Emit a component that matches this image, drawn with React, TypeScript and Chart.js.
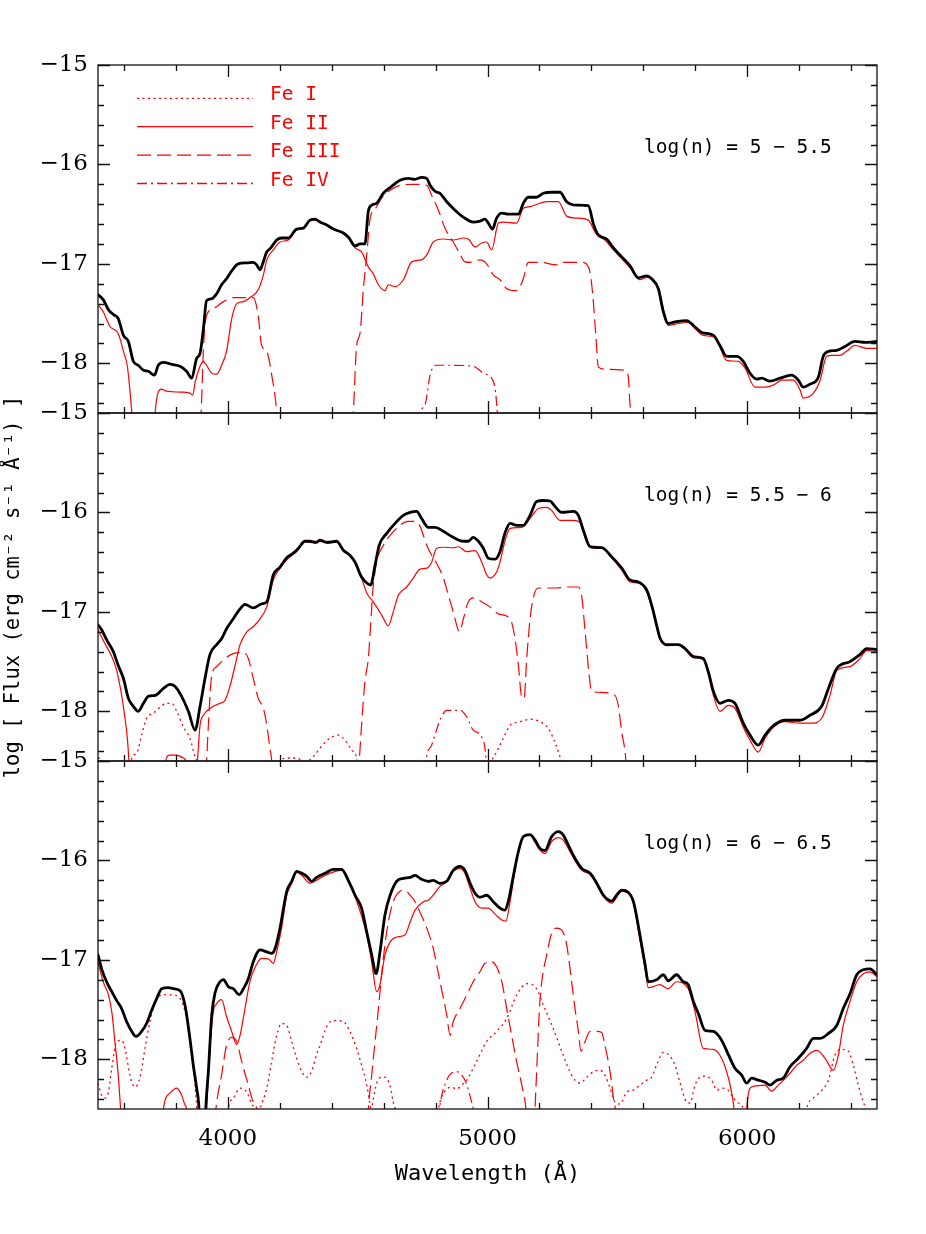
import React, { useEffect, useRef } from 'react';
import { Chart, registerables } from 'chart.js';

Chart.register(...registerables);

const W = 926;
const H = 1234;
const RED = '#ff0000';

// axis ranges and ticks
const X_MIN = 3500;
const X_MAX = 6500;
const Y_MIN = -18.5;
const Y_MAX = -15;
const X_MAJOR = [4000, 5000, 6000];
const X_MINOR = [3600, 3800, 4200, 4400, 4600, 4800, 5200, 5400, 5600, 5800, 6200, 6400];
const Y_MAJOR = [-18, -17, -16, -15];
const Y_MINOR = [-15.2, -15.4, -15.6, -15.8, -16.2, -16.4, -16.6, -16.8, -17.2, -17.4, -17.6, -17.8, -18.2, -18.4];

const LEGEND_LABELS = ['Fe I', 'Fe II', 'Fe III', 'Fe IV'];
const PANEL_LABELS = ['log(n) = 5 \u2212 5.5', 'log(n) = 5.5 \u2212 6', 'log(n) = 6 \u2212 6.5'];
const X_TITLE = 'Wavelength (\u00c5)';
const Y_TITLE = 'log [ Flux (erg cm\u207b\u00b2 s\u207b\u00b9 \u00c5\u207b\u00b9) ]';

// ---------------- Panel 1 : log(n) = 5 - 5.5 ----------------
const P1_TOTAL: number[][] = [[3500,-17.31],[3520,-17.36],[3540,-17.46],[3559,-17.51],[3578,-17.55],[3598,-17.72],[3617,-17.78],[3636,-17.98],[3655,-18.02],[3675,-18.07],[3694,-18.08],[3717,-18.12],[3732,-18.02],[3752,-17.99],[3784,-18.01],[3816,-18.03],[3841,-18.08],[3861,-18.15],[3880,-17.95],[3893,-17.9],[3906,-17.65],[3918,-17.37],[3938,-17.35],[3957,-17.3],[3976,-17.21],[3995,-17.15],[4015,-17.07],[4040,-17.0],[4073,-16.99],[4098,-16.985],[4111,-17.01],[4124,-17.06],[4134,-17.0],[4150,-16.88],[4162,-16.85],[4188,-16.76],[4207,-16.74],[4233,-16.74],[4265,-16.65],[4291,-16.64],[4316,-16.56],[4336,-16.55],[4355,-16.58],[4381,-16.61],[4406,-16.65],[4445,-16.69],[4464,-16.73],[4490,-16.82],[4509,-16.8],[4528,-16.8],[4541,-16.47],[4554,-16.41],[4573,-16.39],[4599,-16.29],[4631,-16.22],[4663,-16.16],[4695,-16.14],[4721,-16.15],[4746,-16.13],[4766,-16.14],[4779,-16.21],[4798,-16.27],[4817,-16.29],[4843,-16.375],[4875,-16.46],[4907,-16.53],[4945,-16.58],[4971,-16.57],[4990,-16.55],[5003,-16.59],[5019,-16.65],[5035,-16.54],[5055,-16.49],[5080,-16.5],[5119,-16.5],[5138,-16.39],[5157,-16.33],[5189,-16.33],[5215,-16.29],[5247,-16.28],[5279,-16.28],[5305,-16.375],[5343,-16.41],[5388,-16.415],[5408,-16.6],[5427,-16.71],[5459,-16.75],[5485,-16.84],[5517,-16.93],[5549,-17.02],[5581,-17.14],[5613,-17.12],[5632,-17.15],[5658,-17.25],[5677,-17.48],[5696,-17.6],[5728,-17.58],[5767,-17.57],[5793,-17.62],[5825,-17.69],[5870,-17.72],[5895,-17.82],[5921,-17.93],[5960,-17.93],[5985,-17.98],[6011,-18.1],[6037,-18.16],[6056,-18.15],[6088,-18.18],[6126,-18.15],[6171,-18.12],[6197,-18.17],[6216,-18.24],[6242,-18.21],[6274,-18.14],[6293,-17.93],[6313,-17.88],[6345,-17.87],[6377,-17.83],[6415,-17.78],[6454,-17.79],[6500,-17.78]];
const P1_FE2: number[][] = [[3500,-17.41],[3520,-17.48],[3546,-17.63],[3578,-17.7],[3598,-17.88],[3613,-18.03],[3621,-18.22],[3630,-18.5],[3634,-18.7],[3716,-18.7],[3720,-18.5],[3732,-18.29],[3745,-18.26],[3764,-18.28],[3816,-18.29],[3854,-18.3],[3865,-18.32],[3874,-18.19],[3893,-18.03],[3906,-17.98],[3918,-18.02],[3938,-18.1],[3957,-18.11],[3976,-18.02],[3995,-17.88],[4015,-17.55],[4034,-17.4],[4060,-17.38],[4085,-17.34],[4117,-17.26],[4137,-17.11],[4150,-16.96],[4175,-16.86],[4201,-16.78],[4233,-16.76],[4265,-16.66],[4291,-16.64],[4316,-16.57],[4336,-16.56],[4355,-16.58],[4381,-16.61],[4445,-16.7],[4470,-16.76],[4490,-16.84],[4515,-16.88],[4541,-17.03],[4560,-17.1],[4580,-17.21],[4605,-17.27],[4618,-17.21],[4644,-17.23],[4676,-17.16],[4708,-16.98],[4746,-16.96],[4766,-16.91],[4791,-16.78],[4830,-16.75],[4868,-16.76],[4907,-16.74],[4926,-16.75],[4952,-16.83],[4978,-16.79],[4997,-16.78],[5016,-16.86],[5042,-16.59],[5061,-16.58],[5112,-16.59],[5138,-16.44],[5164,-16.425],[5202,-16.39],[5234,-16.375],[5273,-16.375],[5305,-16.52],[5343,-16.54],[5388,-16.56],[5414,-16.68],[5427,-16.72],[5452,-16.76],[5485,-16.86],[5549,-17.04],[5587,-17.16],[5619,-17.13],[5658,-17.25],[5684,-17.53],[5696,-17.62],[5735,-17.6],[5773,-17.59],[5799,-17.65],[5831,-17.72],[5876,-17.74],[5921,-17.97],[5966,-17.98],[5992,-18.05],[6030,-18.24],[6069,-18.24],[6101,-18.22],[6133,-18.17],[6178,-18.17],[6204,-18.27],[6216,-18.35],[6255,-18.3],[6281,-18.17],[6306,-17.93],[6325,-17.92],[6357,-17.92],[6383,-17.88],[6415,-17.82],[6460,-17.85],[6500,-17.85]];
const P1_FE3: number[][] = [[3880,-18.8],[3897,-18.5],[3906,-17.85],[3918,-17.52],[3944,-17.45],[3983,-17.38],[4021,-17.34],[4098,-17.34],[4117,-17.52],[4130,-17.82],[4150,-17.88],[4169,-18.12],[4188,-18.49],[4195,-18.8],[4470,-18.8],[4483,-18.5],[4496,-17.82],[4509,-17.7],[4522,-17.25],[4535,-16.91],[4548,-16.54],[4567,-16.45],[4592,-16.34],[4625,-16.26],[4663,-16.21],[4714,-16.2],[4766,-16.21],[4785,-16.31],[4811,-16.46],[4836,-16.64],[4868,-16.78],[4894,-16.9],[4913,-16.98],[4933,-16.985],[4971,-16.96],[4997,-17.0],[5022,-17.11],[5048,-17.16],[5074,-17.25],[5112,-17.27],[5138,-17.15],[5157,-16.985],[5202,-16.985],[5266,-17.01],[5286,-16.985],[5363,-16.985],[5390,-17.04],[5405,-17.3],[5418,-17.75],[5427,-18.04],[5459,-18.06],[5530,-18.07],[5542,-18.13],[5549,-18.42],[5553,-18.5],[5560,-18.8]];
const P1_FE4: number[][] = [[4735,-18.8],[4743,-18.5],[4759,-18.42],[4779,-18.12],[4798,-18.02],[4856,-18.02],[4945,-18.03],[4984,-18.1],[5016,-18.15],[5029,-18.25],[5038,-18.5],[5045,-18.8]];
const P1_FE1: number[][] = [];

// ---------------- Panel 2 : log(n) = 5.5 - 6 ----------------
const P2_TOTAL: number[][] = [[3500,-17.13],[3514,-17.18],[3533,-17.28],[3559,-17.4],[3578,-17.54],[3598,-17.67],[3617,-17.87],[3636,-17.95],[3655,-18.0],[3675,-17.92],[3694,-17.85],[3720,-17.84],[3752,-17.77],[3777,-17.73],[3797,-17.75],[3822,-17.85],[3848,-18.0],[3874,-18.19],[3893,-17.95],[3912,-17.67],[3931,-17.43],[3957,-17.33],[3976,-17.27],[3995,-17.17],[4021,-17.07],[4047,-16.97],[4066,-16.925],[4098,-16.96],[4130,-16.92],[4150,-16.9],[4175,-16.63],[4201,-16.55],[4227,-16.455],[4252,-16.41],[4272,-16.36],[4297,-16.29],[4316,-16.29],[4340,-16.3],[4355,-16.28],[4381,-16.3],[4419,-16.29],[4445,-16.38],[4470,-16.43],[4490,-16.5],[4515,-16.65],[4535,-16.71],[4550,-16.73],[4567,-16.53],[4583,-16.33],[4612,-16.21],[4644,-16.11],[4676,-16.03],[4702,-16.0],[4727,-15.99],[4746,-16.06],[4772,-16.15],[4798,-16.15],[4830,-16.19],[4868,-16.25],[4907,-16.29],[4926,-16.29],[4945,-16.25],[4965,-16.29],[4984,-16.36],[5003,-16.46],[5029,-16.47],[5048,-16.395],[5067,-16.21],[5087,-16.11],[5112,-16.13],[5138,-16.13],[5164,-16.03],[5189,-15.89],[5215,-15.88],[5241,-15.885],[5260,-15.94],[5286,-16.0],[5331,-15.99],[5350,-16.03],[5369,-16.18],[5395,-16.345],[5440,-16.355],[5478,-16.445],[5517,-16.56],[5549,-16.68],[5581,-16.7],[5613,-16.78],[5632,-16.93],[5651,-17.13],[5664,-17.26],[5690,-17.33],[5735,-17.33],[5761,-17.37],[5793,-17.45],[5831,-17.47],[5850,-17.6],[5870,-17.8],[5895,-17.92],[5927,-17.89],[5953,-17.92],[5985,-18.12],[6011,-18.24],[6043,-18.34],[6069,-18.24],[6101,-18.145],[6146,-18.09],[6203,-18.09],[6242,-18.04],[6287,-17.95],[6313,-17.77],[6345,-17.57],[6396,-17.5],[6434,-17.43],[6460,-17.37],[6500,-17.38]];
const P2_FE2: number[][] = [[3500,-17.18],[3527,-17.32],[3553,-17.45],[3572,-17.59],[3591,-17.84],[3604,-18.07],[3613,-18.27],[3619,-18.5],[3622,-18.7],[3755,-18.7],[3760,-18.5],[3777,-18.44],[3803,-18.44],[3829,-18.47],[3838,-18.5],[3842,-18.7],[3878,-18.7],[3883,-18.5],[3893,-18.14],[3906,-18.04],[3918,-18.0],[3944,-17.95],[3970,-17.92],[3989,-17.89],[4008,-17.75],[4028,-17.54],[4047,-17.33],[4073,-17.2],[4098,-17.15],[4124,-17.07],[4150,-16.95],[4175,-16.68],[4201,-16.56],[4233,-16.46],[4265,-16.395],[4297,-16.29],[4316,-16.3],[4340,-16.31],[4355,-16.29],[4381,-16.31],[4419,-16.3],[4445,-16.39],[4470,-16.435],[4490,-16.51],[4515,-16.66],[4535,-16.81],[4560,-16.9],[4592,-17.03],[4618,-17.14],[4637,-17.0],[4657,-16.83],[4689,-16.75],[4714,-16.66],[4740,-16.57],[4766,-16.56],[4785,-16.5],[4804,-16.36],[4830,-16.35],[4868,-16.355],[4888,-16.345],[4920,-16.395],[4952,-16.385],[4978,-16.5],[4997,-16.63],[5010,-16.66],[5035,-16.6],[5048,-16.5],[5067,-16.29],[5087,-16.16],[5132,-16.15],[5164,-16.06],[5196,-15.96],[5228,-15.95],[5247,-15.98],[5279,-16.08],[5331,-16.08],[5356,-16.1],[5375,-16.21],[5401,-16.36],[5440,-16.36],[5478,-16.455],[5517,-16.58],[5549,-16.7],[5581,-16.71],[5613,-16.8],[5632,-16.95],[5651,-17.15],[5664,-17.27],[5690,-17.34],[5735,-17.33],[5761,-17.38],[5793,-17.46],[5831,-17.48],[5850,-17.62],[5870,-17.84],[5895,-18.0],[5927,-17.94],[5953,-17.97],[5985,-18.16],[6011,-18.29],[6043,-18.41],[6069,-18.27],[6101,-18.16],[6146,-18.105],[6203,-18.12],[6248,-18.12],[6287,-18.07],[6319,-17.84],[6345,-17.59],[6396,-17.55],[6434,-17.47],[6460,-17.39],[6500,-17.4]];
const P2_FE3: number[][] = [[3905,-18.8],[3918,-18.5],[3925,-18.14],[3938,-17.64],[3957,-17.55],[3989,-17.47],[4021,-17.42],[4060,-17.41],[4079,-17.47],[4098,-17.67],[4117,-17.87],[4137,-17.97],[4150,-18.14],[4162,-18.37],[4169,-18.5],[4175,-18.8],[4495,-18.8],[4506,-18.5],[4515,-18.14],[4528,-17.7],[4541,-17.47],[4550,-17.13],[4558,-16.8],[4573,-16.5],[4599,-16.33],[4625,-16.23],[4663,-16.13],[4695,-16.09],[4721,-16.09],[4740,-16.14],[4766,-16.33],[4785,-16.43],[4804,-16.51],[4830,-16.66],[4849,-16.83],[4868,-17.0],[4892,-17.2],[4907,-17.07],[4926,-16.9],[4945,-16.86],[4978,-16.9],[5010,-16.95],[5042,-17.02],[5087,-17.07],[5106,-17.27],[5119,-17.54],[5132,-17.86],[5141,-17.87],[5151,-17.47],[5164,-17.07],[5177,-16.85],[5196,-16.76],[5266,-16.76],[5305,-16.75],[5350,-16.75],[5363,-16.85],[5376,-17.2],[5390,-17.6],[5401,-17.8],[5440,-17.81],[5491,-17.84],[5504,-17.95],[5517,-18.21],[5530,-18.41],[5533,-18.5],[5540,-18.8]];
const P2_FE4: number[][] = [[4755,-18.8],[4763,-18.5],[4785,-18.34],[4817,-18.09],[4843,-17.99],[4894,-17.99],[4920,-18.055],[4945,-18.19],[4978,-18.26],[4994,-18.47],[5000,-18.8]];
const P2_FE1: number[][] = [[3500,-18.47],[3515,-18.49],[3525,-18.7],[3620,-18.7],[3630,-18.47],[3649,-18.42],[3668,-18.24],[3687,-18.07],[3713,-18.02],[3739,-17.96],[3764,-17.92],[3784,-17.92],[3803,-18.0],[3829,-18.16],[3854,-18.27],[3874,-18.46],[3880,-18.5],[3888,-18.8],[4190,-18.8],[4205,-18.49],[4230,-18.47],[4265,-18.47],[4291,-18.5],[4315,-18.49],[4335,-18.44],[4355,-18.37],[4393,-18.27],[4426,-18.24],[4451,-18.29],[4477,-18.39],[4496,-18.47],[4502,-18.6],[5005,-18.6],[5016,-18.5],[5035,-18.41],[5061,-18.27],[5087,-18.14],[5125,-18.105],[5164,-18.08],[5202,-18.105],[5234,-18.17],[5253,-18.27],[5273,-18.41],[5282,-18.5],[5290,-18.7]];

// ---------------- Panel 3 : log(n) = 6 - 6.5 ----------------
const P3_TOTAL: number[][] = [[3500,-16.95],[3514,-17.09],[3533,-17.22],[3553,-17.32],[3572,-17.41],[3591,-17.49],[3610,-17.62],[3630,-17.72],[3646,-17.77],[3668,-17.72],[3687,-17.64],[3707,-17.505],[3726,-17.39],[3745,-17.29],[3771,-17.28],[3790,-17.29],[3816,-17.31],[3835,-17.455],[3854,-17.79],[3867,-18.06],[3880,-18.29],[3889,-18.5],[3893,-18.8],[3911,-18.8],[3915,-18.5],[3925,-18.125],[3938,-17.555],[3951,-17.33],[3970,-17.22],[3983,-17.2],[4002,-17.27],[4021,-17.29],[4044,-17.35],[4060,-17.29],[4079,-17.19],[4098,-17.02],[4124,-16.9],[4150,-16.92],[4169,-16.935],[4182,-16.885],[4201,-16.68],[4227,-16.31],[4246,-16.21],[4265,-16.11],[4285,-16.13],[4304,-16.16],[4323,-16.21],[4342,-16.17],[4374,-16.13],[4406,-16.09],[4438,-16.09],[4464,-16.2],[4490,-16.35],[4515,-16.48],[4535,-16.72],[4554,-16.95],[4571,-17.14],[4586,-16.92],[4605,-16.55],[4625,-16.35],[4650,-16.21],[4676,-16.18],[4702,-16.17],[4721,-16.15],[4746,-16.19],[4772,-16.21],[4791,-16.2],[4817,-16.23],[4843,-16.21],[4868,-16.1],[4894,-16.06],[4913,-16.1],[4933,-16.23],[4952,-16.33],[4971,-16.37],[4997,-16.35],[5022,-16.415],[5048,-16.48],[5067,-16.5],[5080,-16.415],[5100,-16.15],[5119,-15.91],[5138,-15.76],[5164,-15.74],[5183,-15.795],[5202,-15.88],[5221,-15.9],[5247,-15.76],[5273,-15.71],[5292,-15.745],[5311,-15.845],[5337,-15.98],[5363,-16.08],[5395,-16.13],[5414,-16.2],[5431,-16.28],[5446,-16.35],[5478,-16.41],[5497,-16.35],[5517,-16.3],[5542,-16.32],[5562,-16.415],[5587,-16.75],[5607,-17.05],[5619,-17.22],[5651,-17.2],[5677,-17.15],[5696,-17.21],[5728,-17.15],[5754,-17.22],[5773,-17.25],[5793,-17.42],[5812,-17.54],[5838,-17.71],[5870,-17.72],[5902,-17.81],[5927,-17.95],[5953,-18.09],[5979,-18.16],[5998,-18.24],[6017,-18.19],[6043,-18.21],[6069,-18.23],[6088,-18.26],[6114,-18.21],[6139,-18.19],[6165,-18.075],[6197,-17.99],[6229,-17.89],[6255,-17.79],[6281,-17.79],[6313,-17.74],[6345,-17.66],[6370,-17.49],[6396,-17.34],[6422,-17.15],[6447,-17.1],[6473,-17.09],[6500,-17.15]];
const P3_FE2: number[][] = [[3500,-17.02],[3520,-17.22],[3540,-17.35],[3553,-17.52],[3565,-17.82],[3578,-18.16],[3587,-18.5],[3592,-18.7],[3748,-18.7],[3752,-18.5],[3777,-18.34],[3803,-18.29],[3822,-18.36],[3835,-18.46],[3841,-18.5],[3846,-18.7],[3914,-18.7],[3918,-18.5],[3931,-17.89],[3944,-17.52],[3957,-17.44],[3976,-17.4],[3995,-17.57],[4015,-17.72],[4034,-17.85],[4047,-17.76],[4066,-17.49],[4085,-17.22],[4105,-17.075],[4130,-16.985],[4156,-16.99],[4175,-17.035],[4188,-16.92],[4207,-16.68],[4227,-16.35],[4246,-16.23],[4265,-16.12],[4285,-16.15],[4316,-16.23],[4342,-16.2],[4374,-16.15],[4438,-16.1],[4464,-16.22],[4490,-16.365],[4535,-16.75],[4554,-17.02],[4573,-17.32],[4586,-17.25],[4605,-16.95],[4625,-16.82],[4650,-16.77],[4682,-16.75],[4702,-16.62],[4721,-16.5],[4753,-16.415],[4772,-16.4],[4791,-16.35],[4817,-16.26],[4843,-16.21],[4868,-16.11],[4894,-16.08],[4913,-16.13],[4933,-16.28],[4952,-16.415],[4978,-16.48],[5003,-16.48],[5029,-16.54],[5055,-16.6],[5071,-16.61],[5087,-16.415],[5106,-16.1],[5125,-15.845],[5144,-15.745],[5164,-15.745],[5183,-15.82],[5202,-15.895],[5221,-15.93],[5247,-15.81],[5273,-15.77],[5292,-15.795],[5311,-15.88],[5337,-16.0],[5363,-16.1],[5395,-16.14],[5414,-16.21],[5431,-16.29],[5446,-16.36],[5478,-16.43],[5517,-16.31],[5542,-16.33],[5562,-16.43],[5587,-16.8],[5607,-17.09],[5619,-17.28],[5664,-17.25],[5696,-17.29],[5728,-17.22],[5773,-17.29],[5799,-17.52],[5831,-17.89],[5870,-17.9],[5895,-17.96],[5921,-18.125],[5940,-18.33],[5949,-18.49],[5955,-18.7],[5993,-18.7],[5998,-18.5],[6011,-18.29],[6030,-18.27],[6069,-18.26],[6094,-18.32],[6120,-18.26],[6159,-18.16],[6191,-18.06],[6216,-18.01],[6242,-17.94],[6268,-17.91],[6300,-17.99],[6332,-18.11],[6351,-17.96],[6370,-17.66],[6396,-17.42],[6422,-17.22],[6447,-17.14],[6473,-17.12],[6500,-17.17]];
const P3_FE3: number[][] = [[3945,-18.8],[3954,-18.5],[3976,-18.16],[3995,-17.86],[4015,-17.78],[4034,-17.82],[4053,-18.02],[4079,-18.26],[4098,-18.43],[4111,-18.5],[4118,-18.8],[4535,-18.8],[4541,-18.5],[4554,-18.16],[4567,-17.82],[4580,-17.49],[4592,-17.15],[4605,-16.85],[4618,-16.62],[4637,-16.415],[4663,-16.31],[4682,-16.3],[4702,-16.35],[4721,-16.415],[4740,-16.52],[4766,-16.68],[4791,-16.885],[4817,-17.22],[4843,-17.555],[4856,-17.76],[4868,-17.62],[4894,-17.49],[4920,-17.355],[4945,-17.22],[4971,-17.12],[4990,-17.035],[5016,-17.02],[5035,-17.07],[5055,-17.22],[5074,-17.49],[5093,-17.76],[5112,-18.02],[5132,-18.26],[5148,-18.5],[5155,-18.8],[5178,-18.8],[5183,-18.5],[5192,-17.96],[5200,-17.49],[5209,-17.22],[5228,-16.95],[5247,-16.73],[5266,-16.68],[5286,-16.7],[5305,-16.85],[5324,-17.22],[5337,-17.49],[5350,-17.72],[5360,-17.92],[5376,-17.82],[5395,-17.72],[5420,-17.72],[5440,-17.73],[5452,-17.86],[5472,-18.125],[5485,-18.39],[5492,-18.5],[5498,-18.8]];
const P3_FE4: number[][] = [[4805,-18.8],[4815,-18.5],[4843,-18.21],[4881,-18.125],[4913,-18.21],[4939,-18.43],[4945,-18.5],[4952,-18.8]];
const P3_FE1: number[][] = [[3500,-18.24],[3514,-18.36],[3527,-18.39],[3540,-18.33],[3553,-18.09],[3572,-17.82],[3591,-17.81],[3604,-17.89],[3623,-18.16],[3642,-18.28],[3662,-18.18],[3681,-17.89],[3700,-17.62],[3726,-17.4],[3752,-17.35],[3790,-17.355],[3816,-17.39],[3835,-17.52],[3854,-17.82],[3870,-18.16],[3880,-18.5],[3885,-18.8],[3995,-18.8],[4002,-18.5],[4021,-18.39],[4047,-18.29],[4073,-18.33],[4092,-18.45],[4105,-18.5],[4115,-18.6],[4124,-18.5],[4150,-18.29],[4169,-18.02],[4188,-17.76],[4207,-17.64],[4227,-17.66],[4246,-17.82],[4265,-17.99],[4285,-18.125],[4304,-18.18],[4323,-18.12],[4342,-17.95],[4355,-17.86],[4381,-17.67],[4406,-17.61],[4445,-17.62],[4470,-17.72],[4496,-17.89],[4515,-18.06],[4535,-18.26],[4548,-18.46],[4552,-18.52],[4560,-18.4],[4573,-18.24],[4592,-18.18],[4605,-18.18],[4625,-18.27],[4637,-18.43],[4644,-18.5],[4650,-18.7],[4800,-18.7],[4811,-18.5],[4823,-18.38],[4843,-18.3],[4862,-18.28],[4881,-18.3],[4900,-18.26],[4920,-18.21],[4958,-18.02],[4997,-17.82],[5035,-17.72],[5074,-17.59],[5112,-17.355],[5151,-17.24],[5189,-17.29],[5215,-17.455],[5253,-17.69],[5292,-17.96],[5324,-18.16],[5356,-18.24],[5382,-18.18],[5408,-18.125],[5433,-18.11],[5452,-18.16],[5472,-18.29],[5491,-18.43],[5510,-18.45],[5536,-18.33],[5562,-18.31],[5587,-18.26],[5613,-18.21],[5632,-18.18],[5651,-18.06],[5677,-17.93],[5703,-17.97],[5722,-18.06],[5741,-18.23],[5767,-18.43],[5780,-18.44],[5799,-18.26],[5818,-18.18],[5838,-18.17],[5863,-18.21],[5883,-18.31],[5902,-18.29],[5927,-18.31],[5947,-18.39],[5966,-18.44],[5985,-18.5],[5992,-18.7],[6220,-18.7],[6229,-18.5],[6255,-18.39],[6281,-18.33],[6313,-18.21],[6338,-17.96],[6364,-17.9],[6390,-17.92],[6409,-18.06],[6428,-18.26],[6447,-18.43],[6455,-18.5],[6462,-18.7]];

const PANELS = [
  { total: P1_TOTAL, fe1: P1_FE1, fe2: P1_FE2, fe3: P1_FE3, fe4: P1_FE4 },
  { total: P2_TOTAL, fe1: P2_FE1, fe2: P2_FE2, fe3: P2_FE3, fe4: P2_FE4 },
  { total: P3_TOTAL, fe1: P3_FE1, fe2: P3_FE2, fe3: P3_FE3, fe4: P3_FE4 },
];

// layout of the three stacked panels (pixels on the page)
const LAYOUT = [
  { top: 65, bottom: 1234 - 413 },
  { top: 413, bottom: 1234 - 761 },
  { top: 761, bottom: 0 },
];

const DASH_FE1 = [2, 3.5];
const DASH_FE3 = [14, 6];
const DASH_FE4 = [10, 4, 2, 4];
const LEGEND_DASHES = [DASH_FE1, [], DASH_FE3, DASH_FE4];

const TEXT_FONT = '"DejaVu Sans Mono", "Liberation Mono", monospace';
const TICK_FONT = '"DejaVu Serif", "Liberation Serif", serif';

const toXY = (arr: number[][]) => arr.map((p) => ({ x: p[0], y: p[1] }));

const panelDeco = {
  id: 'panelDeco',
  afterDraw(chart: any, _args: any, opts: any) {
    const { ctx, chartArea: a, scales } = chart;
    const xs = scales.x;
    const ys = scales.y;
    ctx.save();
    // frame
    ctx.strokeStyle = '#111';
    ctx.lineWidth = 1.3;
    ctx.setLineDash([]);
    ctx.strokeRect(a.left, a.top, a.right - a.left, a.bottom - a.top);
    // ticks
    ctx.beginPath();
    const xt = (v: number, len: number) => {
      const px = Math.round(xs.getPixelForValue(v)) + 0.5;
      ctx.moveTo(px, a.bottom);
      ctx.lineTo(px, a.bottom - len);
      ctx.moveTo(px, a.top);
      ctx.lineTo(px, a.top + len);
    };
    const yt = (v: number, len: number) => {
      const py = Math.round(ys.getPixelForValue(v)) + 0.5;
      ctx.moveTo(a.left, py);
      ctx.lineTo(a.left + len, py);
      ctx.moveTo(a.right, py);
      ctx.lineTo(a.right - len, py);
    };
    X_MAJOR.forEach((v) => xt(v, 12));
    X_MINOR.forEach((v) => xt(v, 6));
    Y_MAJOR.forEach((v) => yt(v, 12));
    Y_MINOR.forEach((v) => yt(v, 6));
    ctx.stroke();

    // panel annotation
    ctx.fillStyle = '#000';
    ctx.font = '19.5px ' + TEXT_FONT;
    ctx.textAlign = 'left';
    ctx.textBaseline = 'alphabetic';
    ctx.fillText(opts.label, a.left + 546, a.top + 88);

    // legend
    if (opts.legend) {
      LEGEND_LABELS.forEach((lab, i) => {
        const y = a.top + 33.3 + i * 28.4;
        ctx.strokeStyle = RED;
        ctx.lineWidth = 1.3;
        ctx.setLineDash(LEGEND_DASHES[i]);
        ctx.beginPath();
        ctx.moveTo(a.left + 39, y);
        ctx.lineTo(a.left + 155, y);
        ctx.stroke();
        ctx.setLineDash([]);
        ctx.fillStyle = RED;
        ctx.fillText(lab, a.left + 172, y + 2);
      });
    }
    ctx.restore();
  },
};

function makeConfig(i: number): any {
  const p = PANELS[i];
  const base = { pointRadius: 0, fill: false, cubicInterpolationMode: 'monotone', clip: 0 };
  const datasets = [
    { label: 'Total', data: toXY(p.total), borderColor: '#000', borderWidth: 2.8, borderJoinStyle: 'round', borderCapStyle: 'round' },
    { label: 'Fe II', data: toXY(p.fe2), borderColor: RED, borderWidth: 1.2 },
    { label: 'Fe III', data: toXY(p.fe3), borderColor: RED, borderWidth: 1.2, borderDash: DASH_FE3 },
    { label: 'Fe IV', data: toXY(p.fe4), borderColor: RED, borderWidth: 1.2, borderDash: DASH_FE4 },
    { label: 'Fe I', data: toXY(p.fe1), borderColor: RED, borderWidth: 1.3, borderDash: DASH_FE1 },
  ].map((d) => ({ ...base, ...d }));

  const isBottom = i === 2;
  return {
    type: 'line',
    data: { datasets },
    plugins: [panelDeco],
    options: {
      responsive: false,
      animation: false,
      events: [],
      devicePixelRatio: 1,
      layout: { padding: { top: LAYOUT[i].top, bottom: LAYOUT[i].bottom, left: 0, right: W - 877 } },
      plugins: {
        legend: { display: false },
        tooltip: { enabled: false },
        title: { display: false },
        panelDeco: { label: PANEL_LABELS[i], legend: i === 0 },
      },
      scales: {
        x: {
          type: 'linear',
          min: X_MIN,
          max: X_MAX,
          display: isBottom,
          grid: { display: false, drawTicks: false },
          border: { display: false },
          afterBuildTicks: (s: any) => {
            s.ticks = X_MAJOR.map((v) => ({ value: v }));
          },
          afterFit: (s: any) => {
            if (isBottom) s.height = 125;
          },
          ticks: {
            color: '#000',
            padding: 16,
            maxRotation: 0,
            autoSkip: false,
            font: { family: TICK_FONT, size: 23 },
            callback: (v: any) => String(v),
          },
          title: {
            display: isBottom,
            text: X_TITLE,
            color: '#000',
            font: { family: TEXT_FONT, size: 22 },
            padding: { top: 0, bottom: 47 },
          },
        },
        y: {
          type: 'linear',
          min: Y_MIN,
          max: Y_MAX,
          position: 'left',
          grid: { display: false, drawTicks: false },
          border: { display: false },
          afterBuildTicks: (s: any) => {
            s.ticks = Y_MAJOR.map((v) => ({ value: v }));
          },
          afterFit: (s: any) => {
            s.width = 98;
          },
          ticks: {
            color: '#000',
            padding: 10,
            autoSkip: false,
            font: { family: TICK_FONT, size: 23 },
            callback: (v: any) => '\u2212' + String(Math.abs(Number(v))),
          },
          title: {
            display: i === 1,
            text: Y_TITLE,
            color: '#000',
            font: { family: TEXT_FONT, size: 20.5 },
            padding: { top: 1.5, bottom: 0 },
          },
        },
      },
    },
  };
}

function Panel({ index }: { index: number }) {
  const ref = useRef<HTMLCanvasElement>(null);
  useEffect(() => {
    if (!ref.current) return;
    const chart = new Chart(ref.current, makeConfig(index));
    return () => chart.destroy();
  }, [index]);
  return (
    <canvas
      ref={ref}
      width={W}
      height={H}
      style={{ position: 'absolute', left: 0, top: 0, width: W, height: H }}
    />
  );
}

export default function App() {
  return (
    <div style={{ position: 'absolute', left: 0, top: 0, width: W, height: H, background: '#fff' }}>
      <Panel index={0} />
      <Panel index={1} />
      <Panel index={2} />
    </div>
  );
}
